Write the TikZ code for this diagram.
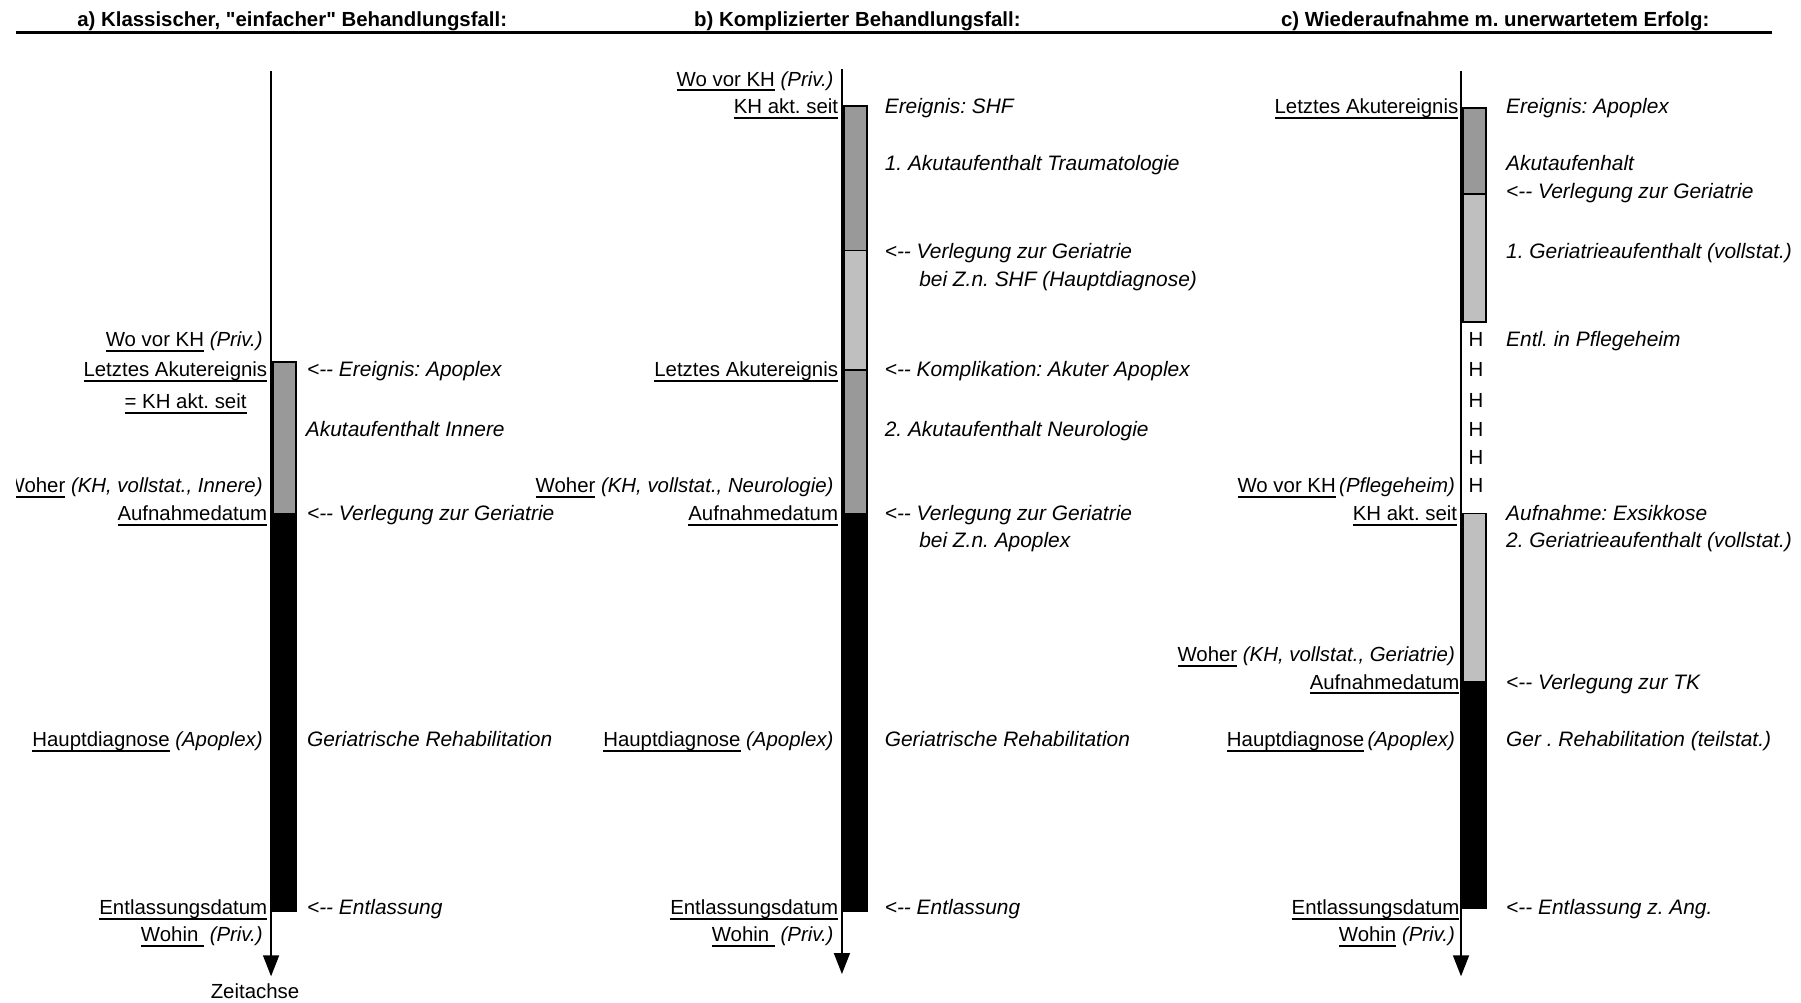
\documentclass[tikz,border=0pt]{standalone}
\usepackage{fontspec}
\setmainfont{Liberation Sans}[Ligatures=TeXOff]
\usepackage{xcolor}
\usepackage{tikz}
\usetikzlibrary{arrows.meta,positioning}
\definecolor{akutgrau}{gray}{0.6}
\definecolor{geriagrau}{gray}{0.75}
\newcommand{\ulb}[1]{\setbox0\hbox{#1}\rlap{\rule[-2.6pt]{\wd0}{0.95pt}}\box0\relax}
\tikzstyle{ttl} = [anchor=base west, inner sep=0pt, font=\fontsize{10.2}{12}\selectfont\bfseries\frenchspacing]
\tikzstyle{lbl} = [anchor=base east, inner sep=0pt, font=\fontsize{10.2}{12}\selectfont\frenchspacing]
\tikzstyle{rlbl} = [anchor=base west, inner sep=0pt, font=\fontsize{10.45}{12}\selectfont\itshape\frenchspacing]
\tikzstyle{hh} = [anchor=base, inner sep=0pt, font=\fontsize{10.2}{12}\selectfont]
\tikzstyle{zeit} = [draw, line width=0.8pt, -{Triangle[width=8pt,length=10.5pt]}]
\tikzstyle{balken} = [draw, line width=0.9pt]

\begin{document}
\begin{tikzpicture}[x=0.5743pt,y=-0.5743pt]
		\useasboundingbox (0,0) rectangle (1568,873);
		\begin{scope}
		\clip (14,0) rectangle (1568,873); % left edge cuts the W of Woher
		
		% headings
		\node[ttl] (tA) at (67,23) {a) Klassischer, "einfacher" Behandlungsfall:};
		\node[ttl] (tB) at (604,23) {b) Komplizierter Behandlungsfall:};
		\node[ttl] (tC) at (1115,23) {c) Wiederaufnahme m. unerwartetem Erfolg:};
		\draw[line width=1.6pt] (12,28) -- (1543,28); %head line
		
		%%% a) %%%
		\coordinate (aTop) at (236,62);
		\coordinate (aEnd) at (236,850);
		\draw[balken,fill=akutgrau] (237.5,315) rectangle (258,447); % acute
		\draw[balken,fill=black] (237.5,447) rectangle (258,793); % rehab
		\draw[zeit] (aTop) -- (aEnd); %time axis
		\node (aZeit) at (222,863) [font=\fontsize{10.2}{12}\selectfont]{Zeitachse};
		
		\node[lbl] (aWoVor) at (229,302) {\ulb{Wo vor KH} \textit{(Priv.)}};
		\node[lbl] (aLetzt) at (233,328) {\ulb{Letztes Akutereignis}};
		\node[lbl] (aSeit) at (215,356) {\ulb{= KH akt. seit}};
		\node[lbl] (aWoher) at (229,429) {\ulb{Woher} \textit{(KH, vollstat., Innere)}};
		\node[lbl] (aAufn) at (233,453) {\ulb{Aufnahmedatum}};
		\node[lbl] (aHaupt) at (229,650) {\ulb{Hauptdiagnose} \textit{(Apoplex)}};
		\node[lbl] (aEntl) at (233,796) {\ulb{Entlassungsdatum}};
		\node[lbl] (aWohin) at (229,820) {\ulb{Wohin\ } \textit{(Priv.)}};
		
		\node[rlbl] (aEreig) at (267,328) {<-{}- Ereignis: Apoplex};
		\node[rlbl] (aAkut) at (266,380) {Akutaufenthalt Innere};
		\node[rlbl] (aVerl) at (267,453) {<-{}- Verlegung zur Geriatrie};
		\node[rlbl] (aReha) at (267,650) {Geriatrische Rehabilitation};
		\node[rlbl] (aEntlg) at (267,796) {<-{}- Entlassung};
		
		%%% b) %%%
		\coordinate (bTop) at (733,60);
		\coordinate (bEnd) at (733,848);
		\draw[balken,fill=akutgrau] (734.5,92) rectangle (755,218); % 1. acute
		\draw[balken,fill=geriagrau] (734.5,218) rectangle (755,322); % geriatrics
		\draw[balken,fill=akutgrau] (734.5,322) rectangle (755,447); % 2. acute
		\draw[balken,fill=black] (734.5,447) rectangle (755,793); % rehab
		\draw[zeit] (bTop) -- (bEnd); %time axis
		
		\node[lbl] (bWoVor) at (726,75) {\ulb{Wo vor KH} \textit{(Priv.)}};
		\node[lbl] (bSeit) at (730,99) {\ulb{KH akt. seit}};
		\node[lbl] (bLetzt) at (730,328) {\ulb{Letztes Akutereignis}};
		\node[lbl] (bWoher) at (726,429) {\ulb{Woher} \textit{(KH, vollstat., Neurologie)}};
		\node[lbl] (bAufn) at (730,453) {\ulb{Aufnahmedatum}};
		\node[lbl] (bHaupt) at (726,650) {\ulb{Hauptdiagnose} \textit{(Apoplex)}};
		\node[lbl] (bEntl) at (730,796) {\ulb{Entlassungsdatum}};
		\node[lbl] (bWohin) at (726,820) {\ulb{Wohin\ } \textit{(Priv.)}};
		
		\node[rlbl] (bEreig) at (770,99) {Ereignis: SHF};
		\node[rlbl] (bAkut) at (770,148) {1. Akutaufenthalt Traumatologie};
		\node[rlbl] (bVerl) at (770,225) {<-{}- Verlegung zur Geriatrie};
		\node[rlbl] (bVerlb) at (800,249) {bei Z.n. SHF (Hauptdiagnose)};
		\node[rlbl] (bKompl) at (770,328) {<-{}- Komplikation: Akuter Apoplex};
		\node[rlbl] (bAkutz) at (770,380) {2. Akutaufenthalt Neurologie};
		\node[rlbl] (bVerlz) at (770,453) {<-{}- Verlegung zur Geriatrie};
		\node[rlbl] (bVerlzb) at (800,477) {bei Z.n. Apoplex};
		\node[rlbl] (bReha) at (770,650) {Geriatrische Rehabilitation};
		\node[rlbl] (bEntlg) at (770,796) {<-{}- Entlassung};
		
		%%% c) %%%
		\coordinate (cTop) at (1272,62);
		\coordinate (cEnd) at (1272,850);
		\draw[balken,fill=akutgrau] (1273.5,94) rectangle (1294,169); % acute
		\draw[balken,fill=geriagrau] (1273.5,169) rectangle (1294,280); % 1. geriatrics
		\draw[balken,fill=geriagrau] (1273.5,447) rectangle (1294,594); % 2. geriatrics
		\draw[balken,fill=black] (1273.5,594) rectangle (1294,791); % day clinic
		\draw[zeit] (cTop) -- (cEnd); %time axis
		
		\foreach \y [count=\i] in {302,328,355,380,404,429} { \node[hh] (cH\i) at (1285,\y) {H}; } % nursing home
		
		\node[lbl] (cLetzt) at (1270,99) {\ulb{Letztes Akutereignis}};
		\node[lbl] (cWoVor) at (1267,429) {\ulb{Wo vor KH}\,\textit{(Pflegeheim)}};
		\node[lbl] (cSeit) at (1269,453) {\ulb{KH akt. seit}};
		\node[lbl] (cWoher) at (1267,576) {\ulb{Woher} \textit{(KH, vollstat., Geriatrie)}};
		\node[lbl] (cAufn) at (1271,600) {\ulb{Aufnahmedatum}};
		\node[lbl] (cHaupt) at (1267,650) {\ulb{Hauptdiagnose}\,\textit{(Apoplex)}};
		\node[lbl] (cEntl) at (1271,796) {\ulb{Entlassungsdatum}};
		\node[lbl] (cWohin) at (1267,820) {\ulb{Wohin} \textit{(Priv.)}};
		
		\node[rlbl] (cEreig) at (1311,99) {Ereignis: Apoplex};
		\node[rlbl] (cAkut) at (1311,148) {Akutaufenhalt};
		\node[rlbl] (cVerl) at (1311,173) {<-{}- Verlegung zur Geriatrie};
		\node[rlbl] (cGeria) at (1311,225) {1. Geriatrieaufenthalt (vollstat.)};
		\node[rlbl] (cPfl) at (1311,302) {Entl. in Pflegeheim};
		\node[rlbl] (cAufnE) at (1311,453) {Aufnahme: Exsikkose};
		\node[rlbl] (cGeriaz) at (1311,477) {2. Geriatrieaufenthalt (vollstat.)};
		\node[rlbl] (cVerlTK) at (1311,600) {<-{}- Verlegung zur TK};
		\node[rlbl] (cReha) at (1311,650) {Ger . Rehabilitation (teilstat.)};
		\node[rlbl] (cEntlg) at (1311,796) {<-{}- Entlassung z. Ang.};
		\end{scope}
\end{tikzpicture}
\end{document}
